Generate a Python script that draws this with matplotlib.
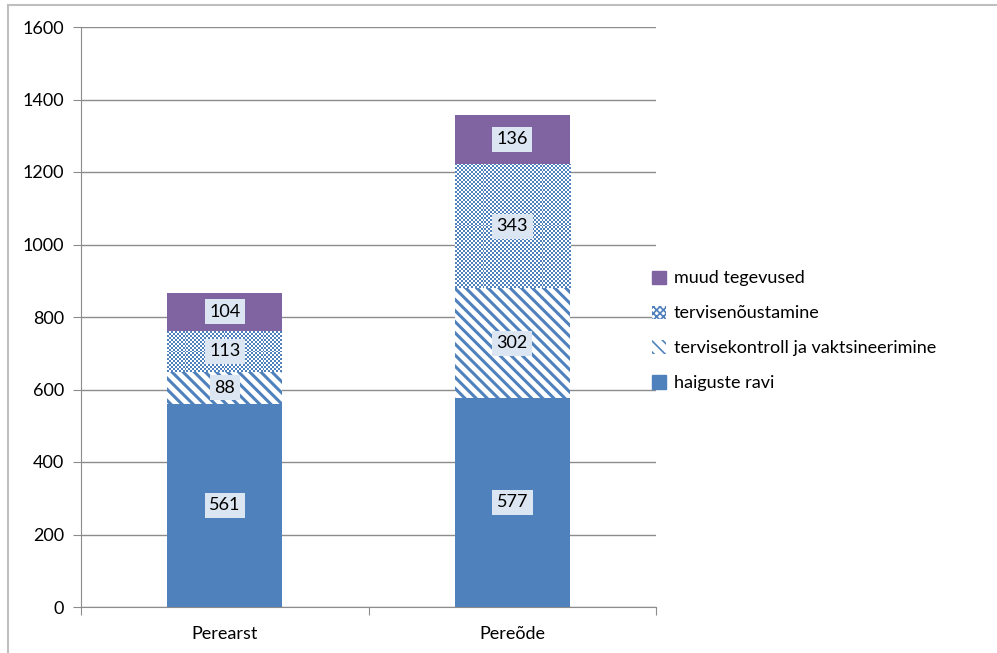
import matplotlib.pyplot as plt
from matplotlib.lines import Line2D
from matplotlib.patches import Patch
import numpy as np

plt.rcParams['font.family'] = ['Lato', 'DejaVu Sans']
plt.rcParams['hatch.linewidth'] = 2.2

categories = ['Perearst', 'Pereõde']
series_names = ['haiguste ravi', 'tervisekontroll ja vaktsineerimine',
                'tervisenõustamine', 'muud tegevused']
haiguste_ravi = [561, 577]
tervisekontroll = [88, 302]
tervisenoustamine = [113, 343]
muud = [104, 136]
series = [haiguste_ravi, tervisekontroll, tervisenoustamine, muud]

blue = '#4F81BD'
purple = '#8064A2'
styles = [
    dict(color=blue),
    dict(facecolor='white', edgecolor=blue, hatch='\\\\\\'),
    dict(facecolor='white', edgecolor='none'),   # checker drawn as an image
    dict(color=purple),
]

W, H = 997, 653
fig = plt.figure(figsize=(W / 100, H / 100), dpi=100)
ax = fig.add_axes([81 / W, 1 - 607 / H, 575 / W, 580 / H])
ax.set_xlim(-0.5, 1.5)
ax.set_ylim(0, 1600)

# small checkerboard tile (2px squares) in blue / white
cb = np.array([[0.31, 0.506, 0.741], [1, 1, 1]])

x = np.arange(len(categories))
bottom = np.zeros(len(categories))
for i, (name, vals, st) in enumerate(zip(series_names, series, styles)):
    vals = np.array(vals)
    bars = ax.bar(x, vals, width=0.4, bottom=bottom, label=name, linewidth=0, **st)
    if i == 2:
        for r in bars:
            x0, y0, w, h = r.get_x(), r.get_y(), r.get_width(), r.get_height()
            p0 = ax.transData.transform((x0, y0))
            p1 = ax.transData.transform((x0 + w, y0 + h))
            nx = int(round((p1[0] - p0[0]) / 2)) + 1
            ny = int(round((p1[1] - p0[1]) / 2)) + 1
            idx = (np.add.outer(np.arange(ny), np.arange(nx)) % 2)
            img = cb[idx]
            im = ax.imshow(img, extent=(x0, x0 + w, y0, y0 + h), origin='lower',
                           interpolation='nearest', aspect='auto', zorder=1.5)
            im.set_clip_path(r)
    for xi, yb, v in zip(x, bottom, vals):
        ax.text(xi, yb + v / 2, str(v), ha='center', va='center', fontsize=13,
                zorder=3,
                bbox=dict(boxstyle='square,pad=0.25', fc='#DCE6F2', ec='none'))
    bottom += vals

ax.set_xlim(-0.5, 1.5)
ax.set_ylim(0, 1600)
ax.set_yticks(range(0, 1601, 200))
ax.yaxis.grid(True, color='#8C8C8C', linewidth=1)
ax.set_axisbelow(True)
for s in ['top', 'right']:
    ax.spines[s].set_visible(False)
ax.spines['left'].set_color('#8C8C8C')
ax.spines['bottom'].set_color('#8C8C8C')
ax.set_xticks([-0.5, 0.5, 1.5])
ax.set_xticklabels([])
ax.set_xticks(x, minor=True)
ax.set_xticklabels(categories, minor=True)
ax.tick_params(axis='x', which='major', length=6, color='#8C8C8C')
ax.tick_params(axis='x', which='minor', length=0, pad=14, labelsize=13)
ax.tick_params(axis='y', length=6, color='#8C8C8C', labelsize=13, pad=6)

# legend keys
plt.rcParams['hatch.linewidth'] = 1.2
keys = [
    Patch(color=purple),
    Patch(facecolor='white', edgecolor=blue, hatch='xxxxx', linewidth=0),
    Patch(facecolor='white', edgecolor=blue, hatch='\\\\\\', linewidth=0),
    Patch(color=blue),
]
ax.legend(keys, series_names[::-1], loc='center left',
          bbox_to_anchor=(1 - 4 / 575, 0.476), frameon=False, fontsize=13,
          handlelength=0.75, handleheight=0.75, handletextpad=0.45,
          labelspacing=1.05, borderaxespad=0, borderpad=0)

# outer chart border
fig.add_artist(Line2D([8 / W, 8 / W], [0, 1 - 5 / H], color='#BFBFBF', lw=1.5))
fig.add_artist(Line2D([8 / W, 1], [1 - 5 / H, 1 - 5 / H], color='#BFBFBF', lw=1.5))

fig.savefig('out.png', dpi=100)
